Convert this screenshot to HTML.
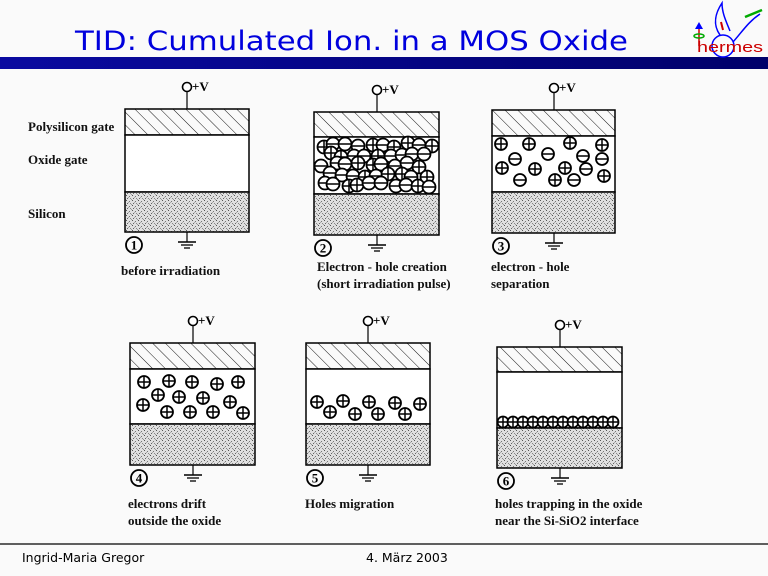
<!DOCTYPE html>
<html><head><meta charset="utf-8"><style>
html,body{margin:0;padding:0;background:#fafafa;}
svg{display:block;}
</style></head><body>
<svg id="s" width="768" height="576" xmlns="http://www.w3.org/2000/svg">
<defs>
<linearGradient id="bar" x1="0" x2="1"><stop offset="0" stop-color="#0a0aa0"/><stop offset="1" stop-color="#00006a"/></linearGradient>
<pattern id="hatch" width="9" height="9" patternUnits="userSpaceOnUse" patternTransform="rotate(-45)">
<line x1="0" y1="0" x2="0" y2="9" stroke="#000" stroke-width="0.9"/></pattern>
<pattern id="stip" width="6" height="5" patternUnits="userSpaceOnUse">
<rect width="6" height="5" fill="#e0e0e0"/>
<rect x="0" y="0" width="1" height="1" fill="#555"/><rect x="3" y="1" width="1" height="1" fill="#777"/>
<rect x="1" y="3" width="1" height="1" fill="#666"/><rect x="4" y="3" width="1" height="1" fill="#888"/>
<rect x="5" y="4" width="1" height="1" fill="#999"/><rect x="2" y="2" width="1" height="1" fill="#aaa"/>
</pattern>
</defs>
<rect width="768" height="576" fill="#fafafa"/>
<text x="75" y="50" font-family="DejaVu Sans, Liberation Sans, sans-serif" font-size="27" fill="#0000dd" textLength="553" lengthAdjust="spacingAndGlyphs">TID: Cumulated Ion. in a MOS Oxide</text>
<rect x="0" y="57" width="768" height="12" fill="url(#bar)"/>
<g fill="none" stroke-width="1.5">
<circle cx="723" cy="46" r="11" stroke="#0000ff"/>
<path d="M720 35 C712 24 716 12 722 3 C722 13 726 21 730 31" stroke="#0000ff"/>
<path d="M733 42 C742 32 748 22 760 14" stroke="#0000ff"/>
<path d="M745 17 L762 10" stroke="#00aa00" stroke-width="2.5"/>
<path d="M721 22 L723 30" stroke="#cc0000" stroke-width="2"/>
<line x1="699" y1="46" x2="699" y2="28" stroke="#cc0000"/>
<ellipse cx="699" cy="36" rx="5" ry="2" stroke="#00aa00"/>
</g>
<polygon points="695,29 699,22 703,29" fill="#0000ff"/>
<text x="697" y="52" font-family="Liberation Sans, sans-serif" font-size="15" fill="#cc0000" textLength="66" lengthAdjust="spacingAndGlyphs">hermes</text>
<line x1="0" y1="544" x2="768" y2="544" stroke="#000" stroke-width="1.2"/>
<text x="22" y="562" font-family="DejaVu Sans, sans-serif" font-size="12.5" fill="#000">Ingrid-Maria Gregor</text>
<text x="366" y="562" font-family="DejaVu Sans, sans-serif" font-size="12.5" fill="#000">4. März 2003</text>
<g font-family="Liberation Serif, serif" font-size="13" font-weight="bold" fill="#111">
<text x="28" y="131">Polysilicon gate</text>
<text x="28" y="164">Oxide gate</text>
<text x="28" y="218">Silicon</text>
<text x="121" y="275">before irradiation</text>
<text x="317" y="271">Electron - hole creation</text>
<text x="317" y="288">(short irradiation pulse)</text>
<text x="491" y="271">electron - hole</text>
<text x="491" y="288">separation</text>
<text x="128" y="508">electrons drift</text>
<text x="128" y="525">outside the oxide</text>
<text x="305" y="508">Holes migration</text>
<text x="495" y="508">holes trapping in the oxide</text>
<text x="495" y="525">near the Si-SiO2 interface</text>
</g>
<g id="g"></g>
</svg>
<script>
var g=document.getElementById('g'),h='';
function dev(x1,x2,t,p,o,b,n){
 var cx=Math.round((x1+x2)/2);
 h+='<rect x="'+x1+'" y="'+t+'" width="'+(x2-x1)+'" height="'+(p-t)+'" fill="url(#hatch)" stroke="#000" stroke-width="1.5"/>';
 h+='<rect x="'+x1+'" y="'+p+'" width="'+(x2-x1)+'" height="'+(o-p)+'" fill="#fff" stroke="#000" stroke-width="1.5"/>';
 h+='<rect x="'+x1+'" y="'+o+'" width="'+(x2-x1)+'" height="'+(b-o)+'" fill="url(#stip)" stroke="#000" stroke-width="1.5"/>';
 h+='<line x1="'+cx+'" y1="'+t+'" x2="'+cx+'" y2="'+(t-18)+'" stroke="#000" stroke-width="1.2"/>';
 h+='<circle cx="'+cx+'" cy="'+(t-22)+'" r="4.5" fill="#fff" stroke="#000" stroke-width="1.6"/>';
 h+='<text x="'+(cx+5)+'" y="'+(t-18)+'" font-family="Liberation Serif,serif" font-size="13" font-weight="bold">+V</text>';
 h+='<line x1="'+cx+'" y1="'+b+'" x2="'+cx+'" y2="'+(b+10)+'" stroke="#000" stroke-width="1.2"/>';
 h+='<line x1="'+(cx-9)+'" y1="'+(b+10)+'" x2="'+(cx+9)+'" y2="'+(b+10)+'" stroke="#000" stroke-width="1.4"/>';
 h+='<line x1="'+(cx-6)+'" y1="'+(b+13)+'" x2="'+(cx+6)+'" y2="'+(b+13)+'" stroke="#000" stroke-width="1.3"/>';
 h+='<line x1="'+(cx-3)+'" y1="'+(b+16)+'" x2="'+(cx+3)+'" y2="'+(b+16)+'" stroke="#000" stroke-width="1.3"/>';
 h+='<circle cx="'+(x1+9)+'" cy="'+(b+13)+'" r="8" fill="none" stroke="#000" stroke-width="1.8"/>';
 h+='<text x="'+(x1+9)+'" y="'+(b+17.5)+'" text-anchor="middle" font-family="Liberation Serif,serif" font-size="13" font-weight="bold">'+n+'</text>';
}
function q(x,y,s,rr){
 rr=rr||6;
 h+='<circle cx="'+x+'" cy="'+y+'" r="'+rr+'" fill="#fff" stroke="#000" stroke-width="1.8"/>';
 h+='<line x1="'+(x-rr)+'" y1="'+y+'" x2="'+(x+rr)+'" y2="'+y+'" stroke="#000" stroke-width="1.5"/>';
 if(s>0)h+='<line x1="'+x+'" y1="'+(y-rr)+'" x2="'+x+'" y2="'+(y+rr)+'" stroke="#000" stroke-width="1.5"/>';
}
dev(125,249,109,135,192,232,1);
dev(314,439,112,137,194,235,2);
dev(492,615,110,136,192,233,3);
dev(130,255,343,369,424,465,4);
dev(306,430,343,369,424,465,5);
dev(497,622,347,372,428,468,6);
var seed=11;function r(){seed=(seed*9301+49297)%233280;return seed/233280;}
for(var row=0;row<5;row++){for(var i=0;i<10;i++){var x=323+i*12+(row%2)*6+(r()-0.5)*5;var y=145+row*10+(r()-0.5)*5;if(x>432)continue;q(Math.round(x),Math.round(y),r()<0.5?1:-1,6.5);}}
[[501,144,1],[529,144,1],[570,143,1],[602,145,1],[548,154,-1],[515,159,-1],[583,156,-1],[602,159,-1],[502,168,1],[535,169,1],[565,168,1],[586,169,-1],[604,176,1],[520,180,-1],[555,180,1],[574,180,-1]].forEach(function(c){q(c[0],c[1],c[2]);});
[[144,382],[169,381],[192,382],[217,384],[238,382],[158,395],[179,397],[203,398],[230,402],[143,405],[167,412],[190,412],[213,412],[243,413]].forEach(function(c){q(c[0],c[1],1);});
[[317,402],[330,412],[343,401],[355,414],[369,402],[378,414],[395,403],[405,414],[420,404]].forEach(function(c){q(c[0],c[1],1);});
for(var k=0;k<12;k++)q(503+k*10,422,1,5.5);
g.innerHTML=h;
</script>
</body></html>
